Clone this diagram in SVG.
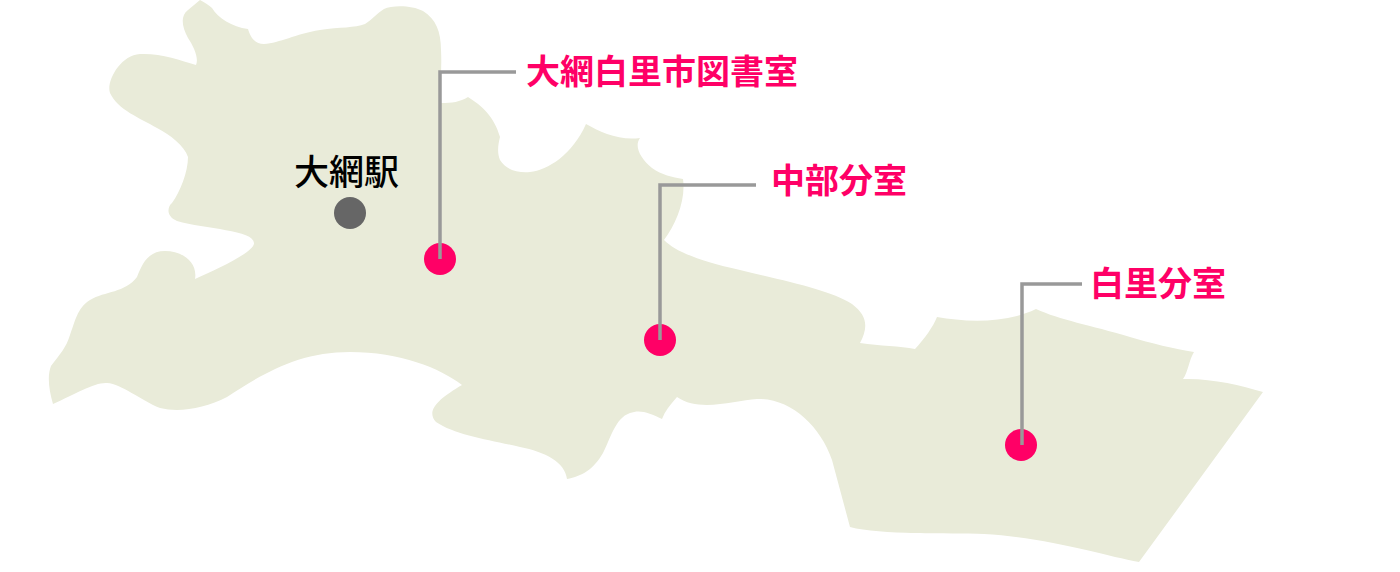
<svg xmlns="http://www.w3.org/2000/svg" width="1400" height="572" viewBox="0 0 1400 572">
<style>
.t{font-family:"Noto Sans CJK JP","Noto Sans CJK SC",sans-serif;font-size:34px;font-weight:700;fill:#ff0066}
.s{font-family:"Noto Sans CJK JP","Noto Sans CJK SC",sans-serif;font-size:35px;font-weight:500;fill:#000}
.l{fill:none;stroke:#999;stroke-width:3.5}
.d{fill:#ff0066}
</style>
<rect width="1400" height="572" fill="#fff"/>
<path id="map" fill="#e9ebd9" d="M200 0 C205 3 209 5 212 8 C218 18 232 27 248 29 C250 36 254 44 264 44 C280 43 295 34 320 30 C340 27 355 28 365 24 C372 20 377 13 384 9 C392 5 412 5 423 11 C436 19 441 32 441 50 C442 68 440 85 441 103 C452 103 460 102 468 97 C482 106 494 116 500 137 C498 145 497 153 500 160 C506 170 518 173 530 172 C548 170 572 155 586 124 C600 132 620 141 640 138 C634 146 640 158 652 168 C662 175 672 177 683 179 C686 200 676 224 664 240 C676 252 700 261 740 270 C790 282 830 290 852 304 C868 316 868 328 860 343 C880 346 900 346 915 349 C925 338 933 327 937 317 C965 322 1005 324 1036 309 C1060 320 1090 325 1130 337 C1150 343 1175 349 1194 352 C1189 360 1188 372 1183 379 C1210 378 1240 385 1263 392 L1139 562 C1105 556 1050 538 984 534 C950 533 880 535 850 527 L832 460 C820 425 790 398 757 399 C735 400 700 413 677 397 C670 405 665 411 662 419 C650 413 640 409 630 413 C615 418 610 440 603 453 C593 470 582 476 567 479 C565 462 545 452 520 447 C490 440 455 435 436 422 C425 410 440 398 462 385 C440 368 400 352 350 352 C300 352 265 372 227 397 C205 408 180 413 160 408 C140 400 122 384 107 383 C95 382 75 394 53 404 C49 390 47 376 51 366 C60 354 66 348 70 335 C75 322 77 308 90 300 C105 291 125 293 137 277 C142 264 148 251 165 251 C182 251 198 262 195 279 C215 270 255 252 254 243 C254 230 205 229 177 221 C165 216 168 206 172 203 C180 192 188 172 188 157 C184 145 170 135 157 128 C140 118 118 110 110 93 C106 82 120 55 140 54 C160 53 180 60 196 65 C199 58 194 47 188 38 C182 27 180 16 188 10 Z"/>
<g id="station"><circle cx="350" cy="213" r="16" fill="#666"/><text class="s" x="346.500" y="185" text-anchor="middle">大網駅</text></g>
<g id="n1"><circle class="d" cx="440" cy="259" r="16"/><text class="t" x="526" y="84">大網白里市図書室</text></g>
<g id="n2"><circle class="d" cx="660" cy="340" r="16"/><text class="t" x="771" y="193">中部分室</text></g>
<g id="n3"><circle class="d" cx="1021" cy="445" r="16"/><text class="t" x="1090" y="296">白里分室</text></g>
<g id="connectors">
<path class="l" d="M440 259V72H516"/>
<path class="l" d="M660 340V185H756"/>
<path class="l" d="M1022 445V284H1082"/>
</g>
</svg>
